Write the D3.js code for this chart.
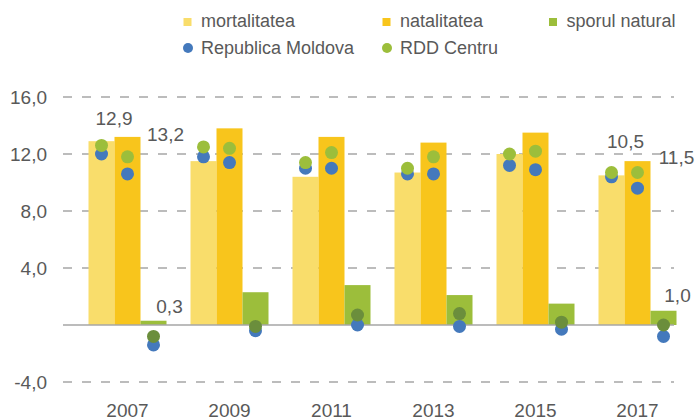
<!doctype html>
<html>

<head>
    <meta charset="UTF-8">
    <title>mortalitatea / natalitatea</title>
    <script src="https://d3js.org/d3.v7.min.js"></script>
    <style>
        body { margin: 0; background: #fff; }
        svg text { font-family: "Liberation Sans", Arial, sans-serif; fill: #595959; }
    </style>
</head>
<body>
    <svg width="697" height="418"></svg>
    <script>
        // data
        var years = ["2007", "2009", "2011", "2013", "2015", "2017"];
        var series = ["mortalitatea", "natalitatea", "sporul natural"];
        var mortalitatea = [12.9, 11.5, 10.4, 10.7, 12.0, 10.5];
        var natalitatea = [13.2, 13.8, 13.2, 12.8, 13.5, 11.5];
        var sporulNatural = [0.3, 2.3, 2.8, 2.1, 1.5, 1.0];
        // dots
        var moldovaMort = [12.0, 11.8, 11.0, 10.6, 11.2, 10.4];
        var moldovaNat = [10.6, 11.4, 11.0, 10.6, 10.9, 9.6];
        var moldovaSpor = [-1.4, -0.4, 0.0, -0.1, -0.3, -0.8];
        var centruMort = [12.6, 12.5, 11.4, 11.0, 12.0, 10.7];
        var centruNat = [11.8, 12.4, 12.1, 11.8, 12.2, 10.7];
        var centruSpor = [-0.8, -0.1, 0.7, 0.8, 0.2, 0.0];
        var yTicks = [-4, 4, 8, 12, 16];

        var barColors = ["#f9dd6b", "#f8c51c", "#9cbe3b"];
        var blue = "#4479bc", green = "#9cbe3b", darkGreen = "#6b8e3c";

        var svg = d3.select("svg");

        var x = d3.scaleBand().domain(years).range([76.5, 688.5])
            .paddingInner(24 / 102).paddingOuter(12 / 102);
        var xs = d3.scaleBand().domain(series).range([0, x.bandwidth()]);
        var y = d3.scaleLinear().domain([-4, 16]).range([382, 97]);

        // comma decimals, plain hyphen for minus
        var comma = function (v) { return v.toFixed(1).replace(".", ","); };

        // grid
        svg.append("g").selectAll("line")
            .data(yTicks)
            .enter().append("line")
            .attr("x1", 63).attr("x2", 674)
            .attr("y1", function (d) { return y(d); })
            .attr("y2", function (d) { return y(d); })
            .attr("stroke", "#a6a6a6")
            .attr("stroke-width", 1.5)
            .attr("stroke-dasharray", "9,10");

        // y labels
        svg.append("g").selectAll("text")
            .data(yTicks)
            .enter().append("text")
            .attr("x", 47)
            .attr("y", function (d) { return y(d) + 7; })
            .attr("text-anchor", "end")
            .attr("font-size", 19)
            .text(function (d) { return comma(d); });

        // bars
        var cols = [mortalitatea, natalitatea, sporulNatural];
        var barData = [];
        for (var s = 0; s < series.length; s++) {
            for (var i = 0; i < years.length; i++) {
                barData.push({ year: years[i], s: s, v: cols[s][i] });
            }
        }
        svg.append("g").selectAll("rect")
            .data(barData)
            .enter().append("rect")
            .attr("x", function (d) { return x(d.year) + xs(series[d.s]); })
            .attr("y", function (d) { return y(Math.max(0, d.v)); })
            .attr("width", xs.bandwidth())
            .attr("height", function (d) { return Math.abs(y(d.v) - y(0)); })
            .attr("fill", function (d) { return barColors[d.s]; });

        // zero line
        svg.append("line")
            .attr("x1", 63).attr("x2", 674)
            .attr("y1", y(0)).attr("y2", y(0))
            .attr("stroke", "#a6a6a6")
            .attr("stroke-width", 1.5);

        // dots
        var dotCols = [
            { vals: [moldovaMort, moldovaNat, moldovaSpor], colors: [blue, blue, blue] },
            { vals: [centruMort, centruNat, centruSpor], colors: [green, green, darkGreen] }
        ];
        dotCols.forEach(function (dc) {
            var pts = [];
            for (var s = 0; s < series.length; s++) {
                for (var i = 0; i < years.length; i++) {
                    pts.push({ year: years[i], s: s, v: dc.vals[s][i] });
                }
            }
            svg.append("g").selectAll("circle")
                .data(pts)
                .enter().append("circle")
                .attr("cx", function (d) { return x(d.year) + xs(series[d.s]) + xs.bandwidth() / 2; })
                .attr("cy", function (d) { return y(d.v); })
                .attr("r", 6.5)
                .attr("fill", function (d) { return dc.colors[d.s]; });
        });

        // value labels (only first and last year), offsets from bar top
        var labels = [
            { i: 0, s: 0, dx: 12.5, dy: -16 },
            { i: 0, s: 1, dx: 38, dy: 4 },
            { i: 0, s: 2, dx: 16, dy: -8 },
            { i: 5, s: 0, dx: 14, dy: -27 },
            { i: 5, s: 1, dx: 39, dy: 3 },
            { i: 5, s: 2, dx: 14, dy: -9 }
        ];
        svg.append("g").selectAll("text")
            .data(labels)
            .enter().append("text")
            .attr("x", function (d) { return x(years[d.i]) + xs(series[d.s]) + xs.bandwidth() / 2 + d.dx; })
            .attr("y", function (d) { return y(cols[d.s][d.i]) + d.dy; })
            .attr("text-anchor", "middle")
            .attr("font-size", 19)
            .text(function (d) { return comma(cols[d.s][d.i]); });

        // x labels
        svg.append("g").selectAll("text")
            .data(years)
            .enter().append("text")
            .attr("x", function (d) { return x(d) + x.bandwidth() / 2; })
            .attr("y", 417)
            .attr("text-anchor", "middle")
            .attr("font-size", 19)
            .text(function (d) { return d; });

        // legend
        var legend = svg.append("g");
        var sq = [
            { name: "mortalitatea", x: 183.5, c: barColors[0] },
            { name: "natalitatea", x: 382.5, c: barColors[1] },
            { name: "sporul natural", x: 549, c: barColors[2] }
        ];
        sq.forEach(function (d) {
            legend.append("rect").attr("x", d.x).attr("y", 18).attr("width", 8).attr("height", 8).attr("fill", d.c);
            legend.append("text").attr("x", d.x + 17.5).attr("y", 27).attr("font-size", 18).text(d.name);
        });
        var ci = [
            { name: "Republica Moldova", x: 188, c: blue },
            { name: "RDD Centru", x: 387, c: green }
        ];
        ci.forEach(function (d) {
            legend.append("circle").attr("cx", d.x).attr("cy", 48).attr("r", 5).attr("fill", d.c);
            legend.append("text").attr("x", d.x + 13).attr("y", 54).attr("font-size", 18).text(d.name);
        });
    </script>
</body>
</html>
